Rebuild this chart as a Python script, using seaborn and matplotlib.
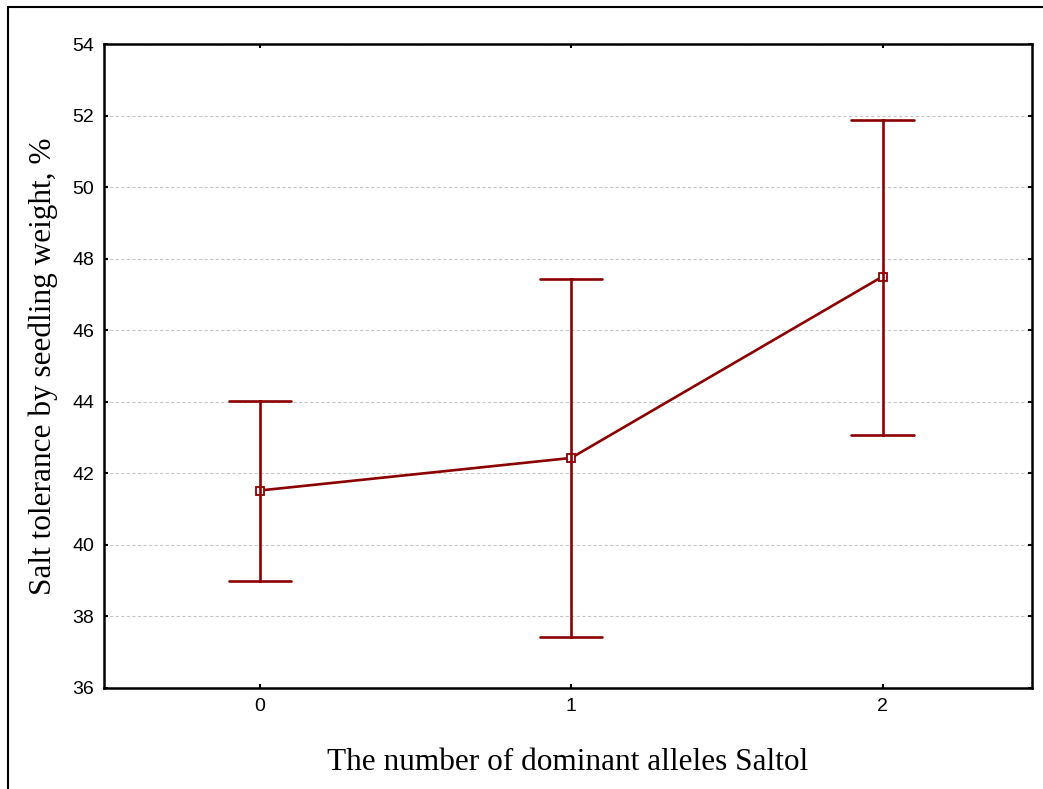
import pandas as pd
import seaborn as sns
import matplotlib.pyplot as plt
from matplotlib.patches import Rectangle

# means and 95% interval bounds
alleles = [0, 1, 2]
mean_vals = [41.52, 42.43, 47.50]
low_vals = [38.99, 37.43, 43.07]
high_vals = [44.02, 47.43, 51.88]
yticks = [36, 38, 40, 42, 44, 46, 48, 50, 52, 54]

# long table: low / mean / high per group -> median + full range gives mean and bounds
rows = []
for a, lo, m, hi in zip(alleles, low_vals, mean_vals, high_vals):
    for v in (lo, m, hi):
        rows.append({'alleles': str(a), 'value': v})
df = pd.DataFrame(rows)

sns.set_style('white')
fig = plt.figure(figsize=(10.43, 7.89), dpi=100)
ax = fig.add_axes([104 / 1043, 1 - 688 / 789, (1032 - 104) / 1043, (688 - 44) / 789])

col = '#8b0000'
sns.pointplot(data=df, x='alleles', y='value', estimator='median', errorbar=('pi', 100),
              color=col, capsize=0.2, markers='s', linewidth=1.9,
              markersize=6, markerfacecolor='white', markeredgewidth=1.3,
              err_kws={'linewidth': 1.9}, ax=ax)

ax.set_xlim(-0.5, 2.48)
ax.set_ylim(36, 54)
ax.set_yticks(yticks)
ax.set_yticklabels([str(t) for t in yticks])
ax.yaxis.grid(True, color='#c8c8c8', linestyle=(0, (3, 2)), linewidth=0.8)
ax.xaxis.grid(False)
ax.set_axisbelow(True)

for s in ax.spines.values():
    s.set_visible(True)
    s.set_color('black')
    s.set_linewidth(1.8)
ax.tick_params(direction='in', length=3, width=1.5, top=True, right=True,
               left=True, bottom=True, labelsize=14, colors='black', pad=7)
for lab in ax.get_xticklabels() + ax.get_yticklabels():
    lab.set_family('Liberation Sans')

ax.set_xlabel('The number of dominant alleles Saltol', family='Liberation Serif',
              fontsize=22.5, labelpad=24, color='black')
ax.set_ylabel('Salt tolerance by seedling weight, %', family='Liberation Serif',
              fontsize=22.5, labelpad=10, color='black')

# outer frame of the original export (only left and top edges visible)
fig.add_artist(Rectangle((8 / 1043, -0.1), 1.2, 1.1 - 7.5 / 789, transform=fig.transFigure,
                         fill=False, edgecolor='black', linewidth=1.5))

fig.savefig('out.png', dpi=100)
